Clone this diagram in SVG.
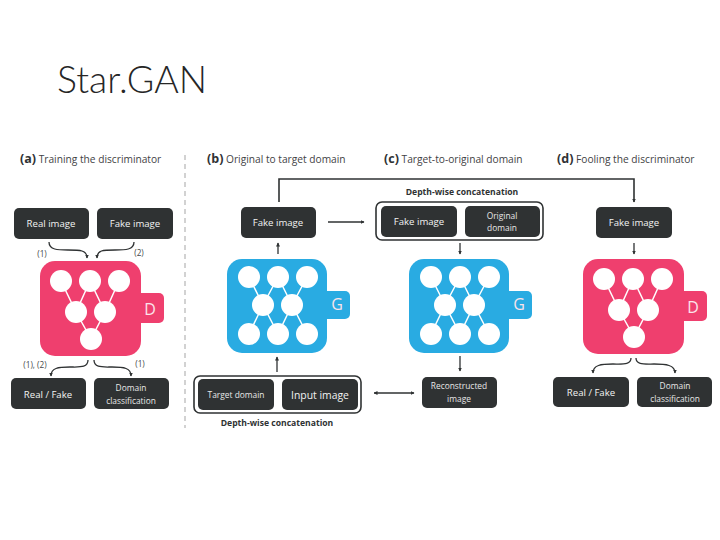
<svg xmlns="http://www.w3.org/2000/svg" width="720" height="540" viewBox="0 0 720 540">
<style>
text{font-family:"Open Sans","Noto Sans","DejaVu Sans",sans-serif}
.title{font-family:"Lato","Open Sans",sans-serif;font-weight:300;font-size:37.5px;fill:#262626}
.head{font-size:10.2px;fill:#3f4244}
.head tspan{font-size:12.5px;font-weight:700;fill:#2f3234}
.box{fill:#2f3233}
.outer{fill:#fff;stroke:#2f3233;stroke-width:1.6}
.lab{fill:#f2f2f2;font-size:9.6px;text-anchor:middle}
.lab2{fill:#e8e8e8;font-size:8.4px;text-anchor:middle}
.bold{font-size:8.6px;font-weight:700;fill:#2f3233;text-anchor:middle}
.note{font-size:8.2px;fill:#45484a;text-anchor:middle}
.letter{fill:#fbe3ea;font-size:16px;text-anchor:middle}
.pink{fill:#ef3f6e}
.blue{fill:#29abe2}
.web{stroke:#fff;stroke-width:1.5;fill:none}
.dot{fill:#fff}
.con{fill:none;stroke:#2f3233;stroke-width:1.3;marker-end:url(#ah)}
.dash{stroke:#b5b5b5;stroke-width:1.2;stroke-dasharray:5 4;fill:none}
</style>
<defs>
<marker id="ah" markerWidth="5" markerHeight="5" refX="3.5" refY="2" orient="auto" markerUnits="userSpaceOnUse"><path d="M0 0L4 2L0 4z" fill="#2f3233"/></marker>
<marker id="as" markerWidth="5" markerHeight="5" refX="0.5" refY="2" orient="auto" markerUnits="userSpaceOnUse"><path d="M4 0L0 2L4 4z" fill="#2f3233"/></marker>
<g id="dnet">
<rect class="pink" x="78" y="32" width="46" height="30" rx="5"/>
<rect class="pink" x="0" y="0" width="101" height="95" rx="15"/>
<path class="web" d="M21 20L36 51M50 20L36 51M50 20L65 51M79 20L65 51M36 51L51 78M65 51L51 78"/>
<g class="dot"><circle cx="21" cy="20" r="11"/><circle cx="50" cy="20" r="11"/><circle cx="79" cy="20" r="11"/><circle cx="36" cy="51" r="11"/><circle cx="65" cy="51" r="11"/><circle cx="51" cy="78" r="11"/></g>
<text class="letter" x="110" y="54">D</text>
</g>
<g id="gnet">
<rect class="blue" x="78" y="32" width="45" height="28" rx="5"/>
<rect class="blue" x="0" y="0" width="100" height="94" rx="15"/>
<path class="web" d="M22 18L36 46M51 18L36 46M51 18L65 46M80 18L65 46M36 46L22 75M36 46L51 75M65 46L51 75M65 46L80 75"/>
<g class="dot"><circle cx="22" cy="18" r="11"/><circle cx="51" cy="18" r="11"/><circle cx="80" cy="18" r="11"/><circle cx="36" cy="46" r="11"/><circle cx="65" cy="46" r="11"/><circle cx="22" cy="75" r="11"/><circle cx="51" cy="75" r="11"/><circle cx="80" cy="75" r="11"/></g>
<text class="letter" x="110" y="51">G</text>
</g>
</defs>
<rect width="720" height="540" fill="#fff"/>
<text class="title" x="57" y="93">Star.GAN</text>
<text class="head" x="20" y="163"><tspan>(a)</tspan> Training the discriminator</text>
<text class="head" x="207" y="163"><tspan>(b)</tspan> Original to target domain</text>
<text class="head" x="384" y="163"><tspan>(c)</tspan> Target-to-original domain</text>
<text class="head" x="557" y="163"><tspan>(d)</tspan> Fooling the discriminator</text>
<path class="dash" d="M185 155V428"/>
<g id="connectors">
<path class="con" d="M49 242C49 250 58 250 68 250C80 250 87 250 87 258"/>
<path class="con" d="M134 242C134 250 125 250 115 250C103 250 97 250 97 258"/>
<path class="con" d="M88 360C88 368 80 367 70 367C58 367 51 368 51 376"/>
<path class="con" d="M94 360C94 368 102 367 112 367C124 367 131 368 131 376"/>
<path class="con" d="M631 358C631 365 623 364 613 364C601 364 593 365 593 373"/>
<path class="con" d="M636 358C636 365 644 364 654 364C666 364 675 365 675 373"/>
<path class="con" d="M279 202V179H634V202" style="stroke-width:1.6"/>
<path class="con" d="M328 222H364"/>
<path class="con" d="M278 254V243"/>
<path class="con" d="M460 243V254"/>
<path class="con" d="M634 243V254"/>
<path class="con" d="M277 372V357"/>
<path class="con" d="M460 356V371"/>
<path class="con" d="M374 393H414" marker-start="url(#as)"/>
</g>
<g id="a-real"><rect class="box" x="14" y="208" width="75" height="31" rx="5"/><text class="lab" x="51" y="227">Real image</text></g>
<g id="a-fake"><rect class="box" x="97" y="208" width="76" height="31" rx="5"/><text class="lab" x="135" y="227">Fake image</text></g>
<text class="note" x="42" y="257">(1)</text>
<text class="note" x="139" y="256">(2)</text>
<g id="a-d"><use href="#dnet" x="40" y="261"/></g>
<text class="note" x="35" y="368">(1), (2)</text>
<text class="note" x="140" y="367">(1)</text>
<g id="a-rf"><rect class="box" x="11" y="378" width="75" height="31" rx="5"/><text class="lab" x="48" y="398">Real / Fake</text></g>
<g id="a-dc"><rect class="box" x="94" y="378" width="75" height="31" rx="5"/><text class="lab2" x="131" y="391">Domain</text><text class="lab2" x="131" y="404">classification</text></g>
<g id="b-fake"><rect class="box" x="241" y="207" width="75" height="31" rx="5"/><text class="lab" x="278" y="226">Fake image</text></g>
<g id="b-g"><use href="#gnet" x="227" y="259"/></g>
<g id="b-concat">
<rect class="outer" x="194" y="376" width="167" height="37" rx="6"/>
<rect class="box" x="198" y="379" width="76" height="31" rx="5"/><text class="lab2" x="236" y="398">Target domain</text>
<rect class="box" x="282" y="379" width="76" height="31" rx="5"/><text class="lab" x="320" y="399" style="font-size:10.4px">Input image</text>
</g>
<text class="bold" x="277" y="426">Depth-wise concatenation</text>
<text class="bold" x="462" y="195">Depth-wise concatenation</text>
<g id="c-concat">
<rect class="outer" x="376" y="202" width="167" height="38" rx="6"/>
<rect class="box" x="381" y="206" width="76" height="31" rx="5"/><text class="lab" x="419" y="225">Fake image</text>
<rect class="box" x="465" y="206" width="75" height="31" rx="5"/><text class="lab2" x="502" y="219">Original</text><text class="lab2" x="502" y="231">domain</text>
</g>
<g id="c-g"><use href="#gnet" x="409" y="259"/></g>
<g id="c-rec"><rect class="box" x="422" y="377" width="75" height="31" rx="5"/><text class="lab2" x="459" y="389">Reconstructed</text><text class="lab2" x="459" y="402">image</text></g>
<g id="d-fake"><rect class="box" x="596" y="207" width="76" height="31" rx="5"/><text class="lab" x="634" y="226">Fake image</text></g>
<g id="d-d"><use href="#dnet" x="583" y="259"/></g>
<g id="d-rf"><rect class="box" x="553" y="377" width="76" height="30" rx="5"/><text class="lab" x="591" y="396">Real / Fake</text></g>
<g id="d-dc"><rect class="box" x="637" y="377" width="75" height="30" rx="5"/><text class="lab2" x="675" y="389">Domain</text><text class="lab2" x="675" y="402">classification</text></g>
</svg>
